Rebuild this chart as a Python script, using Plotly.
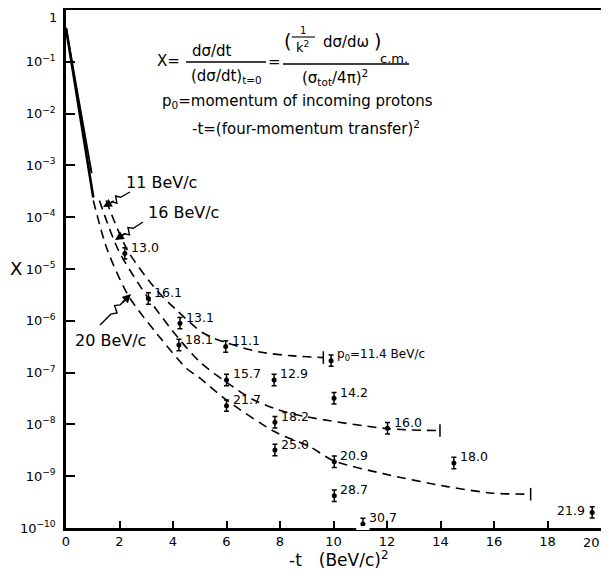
import numpy as np
import plotly.graph_objects as go

# ---------------- data ----------------
# measured points: -t (BeV/c)^2 and X
pt_t = [2.2, 3.08, 4.26, 4.22, 5.97, 9.91, 6.0, 7.78, 10.02, 6.0, 7.81, 12.02,
        7.81, 10.03, 10.03, 14.5, 19.67, 11.1]
pt_x = [2.0e-5, 2.7e-6, 9.0e-7, 3.4e-7, 3.2e-7, 1.7e-7, 7.2e-8, 7.2e-8, 3.2e-8,
        2.3e-8, 1.1e-8, 8.4e-9, 3.2e-9, 1.9e-9, 4.2e-10, 1.8e-9, 2.0e-10, 1.2e-10]
pt_label = ["13.0", "16.1", "13.1", "18.1", "11.1", "p<sub>0</sub>=11.4 BeV/c",
            "15.7", "12.9", "14.2", "21.7", "18.2", "16.0", "25.0", "20.9",
            "28.7", "18.0", "21.9", "30.7"]

# dashed curves
c11_t = [1.5, 2.3, 3.39, 4.14, 5.13, 5.97, 7.25, 8.5, 9.62]
c11_x = [2.1e-4, 2.3e-5, 3.9e-6, 1.6e-6, 5.8e-7, 3.8e-7, 2.5e-7, 2.1e-7, 1.95e-7]
c16_t = [1.25, 1.96, 3.08, 4.22, 5.01, 6.0, 7.0, 7.96, 9.0, 12.0, 13.98]
c16_x = [2.1e-4, 2.3e-5, 2.7e-6, 4.5e-7, 1.6e-7, 6.5e-8, 3.0e-8, 1.9e-8, 1.4e-8, 8.3e-9, 7.6e-9]
c20_t = [1.02, 1.55, 2.35, 3.4, 4.51, 5.01, 6.0, 7.81, 9.12, 9.99, 11.86, 14.25, 15.97, 17.37]
c20_x = [2.1e-4, 2.3e-5, 2.95e-6, 5.6e-7, 1.2e-7, 7.8e-8, 2.95e-8, 7.2e-9, 3.7e-9,
         2.0e-9, 1.12e-9, 6.3e-10, 4.7e-10, 4.5e-10]
# solid small-t curves
s1_t = [0.0, 0.96]
s1_x = [0.45, 7.1e-4]
s2_t = [0.0, 1.02]
s2_x = [0.45, 2.4e-4]

x_ticks = [0, 2, 4, 6, 8, 10, 12, 14, 16, 18, 20]
y_tickvals = [1e-1, 1e-2, 1e-3, 1e-4, 1e-5, 1e-6, 1e-7, 1e-8, 1e-9, 1e-10]
y_ticktext = ["10<sup>\u2212%d</sup>" % k for k in range(1, 11)]
y_top_label = "1"

FONT = "DejaVu Sans"
# the page body adds an 8px offset; size the figure so the plot area lands
# at window pixels x 66..601, y 10..528
OFF = 8
W, H = 609 - OFF, 576 - OFF
PL, PR, PT, PB = 66, 601, 10, 528          # plot area in window pixels
L, T = PL - OFF, PT - OFF
R, B = W - (PR - OFF), H - (PB - OFF)
PW, PH = PR - PL, PB - PT


def P(px, py):
    return (px - PL) / PW, (PB - py) / PH


fig = go.Figure()

dash = dict(color="black", width=1.6, dash="9px,6px")
for tt, xx in [(c11_t, c11_x), (c16_t, c16_x), (c20_t, c20_x)]:
    fig.add_trace(go.Scatter(x=tt, y=xx, mode="lines",
                             line=dict(shape="spline", smoothing=0.8, **dash),
                             hoverinfo="skip", showlegend=False))
for tt, xx, w in [(s1_t, s1_x, 1.8), (s2_t, s2_x, 2.6)]:
    fig.add_trace(go.Scatter(x=tt, y=xx, mode="lines", line=dict(color="black", width=w),
                             hoverinfo="skip", showlegend=False))

# curve end bars
for tt, xx in [(c11_t, c11_x), (c16_t, c16_x), (c20_t, c20_x)]:
    fig.add_trace(go.Scatter(x=[tt[-1]], y=[xx[-1]], mode="markers",
                             marker=dict(symbol="line-ns", size=9, line=dict(width=1.5, color="black")),
                             hoverinfo="skip", showlegend=False))

# points with error bars
f = 10 ** 0.11
px_arr = np.array(pt_x)
fig.add_trace(go.Scatter(
    x=pt_t, y=pt_x, mode="markers",
    marker=dict(color="black", size=5),
    error_y=dict(type="data", symmetric=False, array=px_arr * (f - 1),
                 arrayminus=px_arr * (1 - 1 / f), color="black", thickness=1.5, width=2.5),
    hoverinfo="skip", showlegend=False))

ann = []
for t, x, lab in zip(pt_t, pt_x, pt_label):
    left = lab == "21.9"
    small = lab.startswith("p")
    ann.append(dict(x=t, y=np.log10(x), xref="x", yref="y", text=lab, showarrow=False,
                    xanchor="right" if left else "left", yanchor="middle",
                    xshift=-5 if left else 4, yshift=2 if left else 6,
                    font=dict(family=FONT, size=12 if small else 12.5, color="black")))


def txt(px, py, s, size=13, anchor="center", yanchor="middle"):
    x, y = P(px, py)
    ann.append(dict(x=x, y=y, xref="paper", yref="paper", text=s, showarrow=False,
                    xanchor=anchor, yanchor=yanchor,
                    font=dict(family=FONT, size=size, color="black")))


shapes = []


def seg(x0, y0, x1, y1, w=1.3, color="black"):
    a, b = P(x0, y0)
    c, d = P(x1, y1)
    shapes.append(dict(type="line", xref="paper", yref="paper", x0=a, y0=b, x1=c, y1=d,
                       line=dict(color=color, width=w)))


# top y tick label and last x tick label, kept inside the page
txt(59, 8, y_top_label, 13, "right", "top")
txt(602, 542, str(x_ticks[-1]), 13, "right")

# formula block
FS = 15
txt(182, 61, "X=", FS, "right")
txt(212, 51, "d\u03c3/dt", FS)
seg(186, 62, 266, 62)
txt(226, 77, "(d\u03c3/dt)<sub>t=0</sub>", FS)
txt(274, 62, "=", FS)
txt(287, 41, "(", 19)
txt(303, 30, "1", 10)
seg(292, 37, 315, 37, 1.1)
txt(302, 47, "k<sup>2</sup>", 13)
txt(346, 42, "d\u03c3/d\u03c9", FS)
txt(377, 41, ")", 19)
txt(394, 58, "c.m.", 13)
seg(283, 64, 409, 64)
txt(335, 78, "(\u03c3<sub>tot</sub>/4\u03c0)<sup>2</sup>", FS)
txt(160, 102, "p<sub>0</sub>=momentum of incoming protons", FS, "left")
txt(190, 128, "-t=(four-momentum transfer)<sup>2</sup>", FS, "left")

# curve labels
txt(161, 182, "11 BeV/c", 16)
txt(183, 212, "16 BeV/c", 16)
txt(110, 340, "20 BeV/c", 16)

# axis titles
txt(16, 268, "X", 18)
txt(338, 559, "-t\u2003(BeV/c)<sup>2</sup>", 17)


def squiggle(s, e):
    sx, sy = s
    ex, ey = e
    dx, dy = ex - sx, ey - sy
    ln = np.hypot(dx, dy)
    ux, uy = dx / ln, dy / ln
    nx, ny = -uy, ux
    pts = [(sx, sy), (sx + 0.35 * dx, sy + 0.35 * dy),
           (sx + 0.47 * dx + 3.5 * nx, sy + 0.47 * dy + 3.5 * ny),
           (sx + 0.55 * dx - 3.5 * nx, sy + 0.55 * dy - 3.5 * ny),
           (sx + 0.65 * dx, sy + 0.65 * dy), (ex - 3 * ux, ey - 3 * uy)]
    path = ""
    for i, (x, y) in enumerate(pts):
        a, b = P(x, y)
        path += ("M" if i == 0 else " L") + " %.5f %.5f" % (a, b)
    shapes.append(dict(type="path", xref="paper", yref="paper", path=path,
                       line=dict(color="black", width=1.4)))
    a, b = P(ex, ey)
    ann.append(dict(x=a, y=b, xref="paper", yref="paper", text="", showarrow=True,
                    ax=-ux * 14, ay=-uy * 14, arrowhead=2, arrowsize=1.1, arrowwidth=1.6,
                    arrowcolor="black"))


squiggle((130, 192), (103, 207))
squiggle((143, 222), (115, 240))
squiggle((100, 325), (131, 294))

# axis break under the 30.7 point
shapes.append(dict(type="line", xref="x", yref="paper", x0=10.85, x1=11.35, y0=0, y1=0,
                   line=dict(color="white", width=4), layer="above"))

fig.update_layout(
    width=W, height=H, margin=dict(l=L, r=R, t=T, b=B, autoexpand=False),
    paper_bgcolor="white", plot_bgcolor="white",
    font=dict(family=FONT, color="black"),
    annotations=ann, shapes=shapes, showlegend=False,
    xaxis=dict(range=[0, 20], tickvals=x_ticks,
               ticktext=[str(v) for v in x_ticks[:-1]] + [""],
               ticks="inside", ticklen=7, tickwidth=1.8, tickcolor="black",
               showline=True, linecolor="black", linewidth=2.5, mirror=True,
               showgrid=False, zeroline=False, automargin=False,
               tickfont=dict(family=FONT, size=13, color="black")),
    yaxis=dict(type="log", range=[-10, 0], tickvals=y_tickvals, ticktext=y_ticktext,
               ticks="inside", ticklen=9, tickwidth=1.8, tickcolor="black",
               showline=True, linecolor="black", linewidth=2.5, mirror=True,
               showgrid=False, zeroline=False, ticklabelstandoff=5, automargin=False,
               tickfont=dict(family=FONT, size=13, color="black")),
)

fig.write_html("out.html")
